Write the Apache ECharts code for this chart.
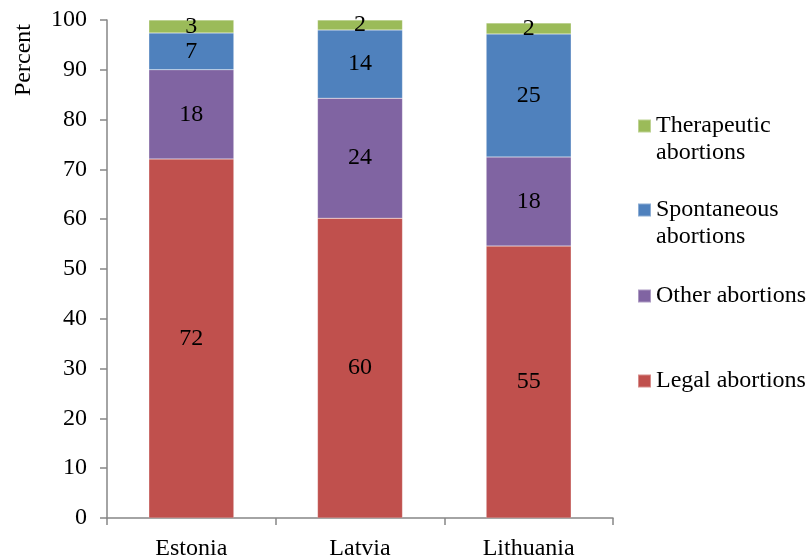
<!DOCTYPE html>
<html>
<head>
<meta charset="utf-8">
<script src="https://cdn.jsdelivr.net/npm/echarts@6/dist/echarts.min.js"></script>
<style>html,body{margin:0;padding:0;background:#fff;}#c{width:809px;height:557px;}</style>
</head>
<body>
<div id="c"></div>
<script>
var categories = ['Estonia', 'Latvia', 'Lithuania'];
var legalAbortions = [72.1, 60.2, 54.6];
var otherAbortions = [17.9, 24.1, 17.9];
var spontaneousAbortions = [7.4, 13.7, 24.7];
var therapeuticAbortions = [2.6, 2.0, 2.2];
var yTicks = [0, 10, 20, 30, 40, 50, 60, 70, 80, 90, 100];

var FONT = '"Liberation Serif", "Times New Roman", serif';
var FS = 24;
var chart = echarts.init(document.getElementById('c'), null, {renderer: 'canvas'});

function mkSeries(name, data, color) {
  return {
    name: name, type: 'bar', stack: 'all', data: data, barWidth: 85,
    itemStyle: {color: color, borderColor: 'rgba(255,255,255,0.35)', borderWidth: 0.5},
    label: {show: true, position: 'inside', color: '#000', fontFamily: FONT, fontSize: FS,
      formatter: function (p) { return Math.round(p.value); }},
    emphasis: {disabled: true}
  };
}
function mkLegend(name, top, twoLine) {
  return {
    data: [name], left: 637, top: top, padding: 0, icon: 'rect', itemWidth: 13, itemHeight: 13, itemGap: 5,
    selectedMode: false,
    formatter: function (n) { return twoLine ? '\n' + n.replace(' ', '\n') : n; },
    textStyle: {fontFamily: FONT, fontSize: FS, color: '#000', lineHeight: 27}
  };
}

chart.setOption({
  animation: false,
  backgroundColor: '#fff',
  grid: {left: 107, right: 196, top: 20, bottom: 39, containLabel: false, outerBoundsMode: 'none'},
  legend: [
    mkLegend('Therapeutic abortions', 85.5, true),
    mkLegend('Spontaneous abortions', 169.5, true),
    mkLegend('Other abortions', 282.5, false),
    mkLegend('Legal abortions', 367.5, false)
  ],
  graphic: [{type: 'text', x: 24, y: 60, rotation: Math.PI / 2,
    style: {text: 'Percent', fontFamily: FONT, fontSize: FS, fill: '#000', align: 'center', verticalAlign: 'middle'}}],
  xAxis: {
    type: 'category', data: categories,
    axisLine: {lineStyle: {color: '#868686', width: 1.5}},
    axisTick: {show: true, length: 7, lineStyle: {color: '#868686', width: 1.5}},
    axisLabel: {fontFamily: FONT, fontSize: FS, color: '#000', margin: 19}
  },
  yAxis: {
    type: 'value', min: 0, max: 100, interval: 10,
    axisLine: {show: true, lineStyle: {color: '#868686', width: 1.5}},
    axisTick: {show: true, length: 7, lineStyle: {color: '#868686', width: 1.5}},
    splitLine: {show: false},
    axisLabel: {fontFamily: FONT, fontSize: FS, color: '#000', margin: 20,
      formatter: function (v) { return yTicks.indexOf(v) >= 0 ? String(v) : ''; }}
  },
  series: [
    mkSeries('Legal abortions', legalAbortions, '#C0504D'),
    mkSeries('Other abortions', otherAbortions, '#8064A2'),
    mkSeries('Spontaneous abortions', spontaneousAbortions, '#4F81BD'),
    mkSeries('Therapeutic abortions', therapeuticAbortions, '#9BBB59')
  ]
});
</script>
</body>
</html>
